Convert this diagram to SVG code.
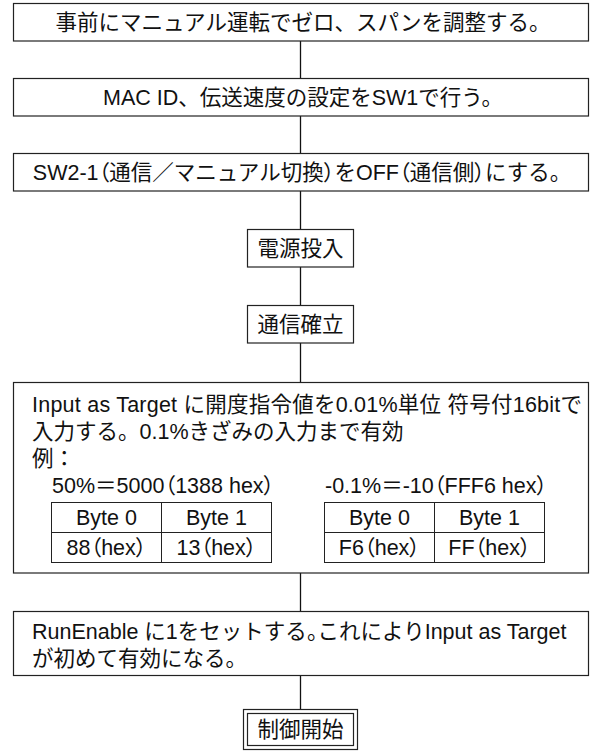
<svg xmlns="http://www.w3.org/2000/svg" width="590" height="751" viewBox="0 0 590 751">
<style>
  .box { fill: #ffffff; stroke: #222222; stroke-width: 1.2; }
  .cell { fill: none; stroke: #222222; stroke-width: 1; }
  .conn { stroke: #111111; stroke-width: 1.3; fill: none; }
  text { font-family: "Liberation Sans", "Noto Sans CJK JP", sans-serif; font-size: 21.5px; fill: #111111; }
  .c { text-anchor: middle; }
  .p { font-family: "Noto Sans CJK JP", sans-serif; font-feature-settings: "palt" 1; }
</style>
<rect width="590" height="751" fill="#ffffff"/>
<g id="connectors">
  <line class="conn" x1="300.5" y1="41" x2="300.5" y2="78"/>
  <line class="conn" x1="300.5" y1="116" x2="300.5" y2="153"/>
  <line class="conn" x1="300.5" y1="191" x2="300.5" y2="229"/>
  <line class="conn" x1="300.5" y1="267" x2="300.5" y2="305"/>
  <line class="conn" x1="300.5" y1="343" x2="300.5" y2="382"/>
  <line class="conn" x1="300.5" y1="573" x2="300.5" y2="611"/>
  <line class="conn" x1="300.5" y1="675" x2="300.5" y2="709"/>
</g>
<g id="step1">
  <rect class="box" x="13.5" y="3.5" width="575" height="37.5"/>
  <text class="c" x="303" y="29.5">事前にマニュアル運転でゼロ、スパンを調整する。</text>
</g>
<g id="step2">
  <rect class="box" x="13.5" y="78.5" width="575" height="37.5"/>
  <text class="c" x="303" y="104.5">MAC ID、伝送速度の設定をSW1で行う。</text>
</g>
<g id="step3">
  <rect class="box" x="13.5" y="153.5" width="575" height="37.5"/>
  <text class="c" x="302" y="179.5">SW2-1<tspan class="p">（</tspan>通信／マニュアル切換<tspan class="p">）</tspan>をOFF<tspan class="p">（</tspan>通信側<tspan class="p">）</tspan>にする。</text>
</g>
<g id="power-on">
  <rect class="box" x="247.5" y="229.5" width="106" height="37.5"/>
  <text class="c" x="300.5" y="255.5">電源投入</text>
</g>
<g id="comm-established">
  <rect class="box" x="247.5" y="305.5" width="106" height="37.5"/>
  <text class="c" x="300.5" y="331.5">通信確立</text>
</g>
<g id="input-target">
  <rect class="box" x="13.5" y="382.5" width="575" height="190.5"/>
  <text x="32" y="411.5" textLength="550" lengthAdjust="spacing">Input as Target に開度指令値を0.01%単位 符号付16bitで</text>
  <text x="32" y="438.5">入力する。0.1%きざみの入力まで有効</text>
  <text x="32" y="465.5">例：</text>
  <text x="52" y="492.5">50%＝5000<tspan class="p">（</tspan>1388 hex<tspan class="p">）</tspan></text>
  <text x="325" y="492.5">-0.1%＝-10<tspan class="p">（</tspan>FFF6 hex<tspan class="p">）</tspan></text>
  <g id="table1">
    <rect class="cell" x="51.5" y="502.5" width="220" height="60"/>
    <line class="cell" x1="51.5" y1="532.5" x2="271.5" y2="532.5"/>
    <line class="cell" x1="161.5" y1="502.5" x2="161.5" y2="562.5"/>
    <text class="c" x="106.5" y="525">Byte 0</text>
    <text class="c" x="216.5" y="525">Byte 1</text>
    <text class="c" x="106.5" y="555">88<tspan class="p">（</tspan>hex<tspan class="p">）</tspan></text>
    <text class="c" x="216.5" y="555">13<tspan class="p">（</tspan>hex<tspan class="p">）</tspan></text>
  </g>
  <g id="table2">
    <rect class="cell" x="324.5" y="502.5" width="220" height="60"/>
    <line class="cell" x1="324.5" y1="532.5" x2="544.5" y2="532.5"/>
    <line class="cell" x1="434.5" y1="502.5" x2="434.5" y2="562.5"/>
    <text class="c" x="379.5" y="525">Byte 0</text>
    <text class="c" x="489.5" y="525">Byte 1</text>
    <text class="c" x="379.5" y="555">F6<tspan class="p">（</tspan>hex<tspan class="p">）</tspan></text>
    <text class="c" x="489.5" y="555">FF<tspan class="p">（</tspan>hex<tspan class="p">）</tspan></text>
  </g>
</g>
<g id="run-enable">
  <rect class="box" x="13.5" y="611.5" width="575" height="64"/>
  <text x="32" y="638.5">RunEnable に1をセットする<tspan class="p">。</tspan>これによりInput as Target</text>
  <text x="32" y="665.5">が初めて有効になる。</text>
</g>
<g id="control-start">
  <rect class="box" x="243.5" y="709.5" width="114" height="40"/>
  <rect class="box" x="247.5" y="713.5" width="106" height="32"/>
  <text class="c" x="300.5" y="737">制御開始</text>
</g>
</svg>
